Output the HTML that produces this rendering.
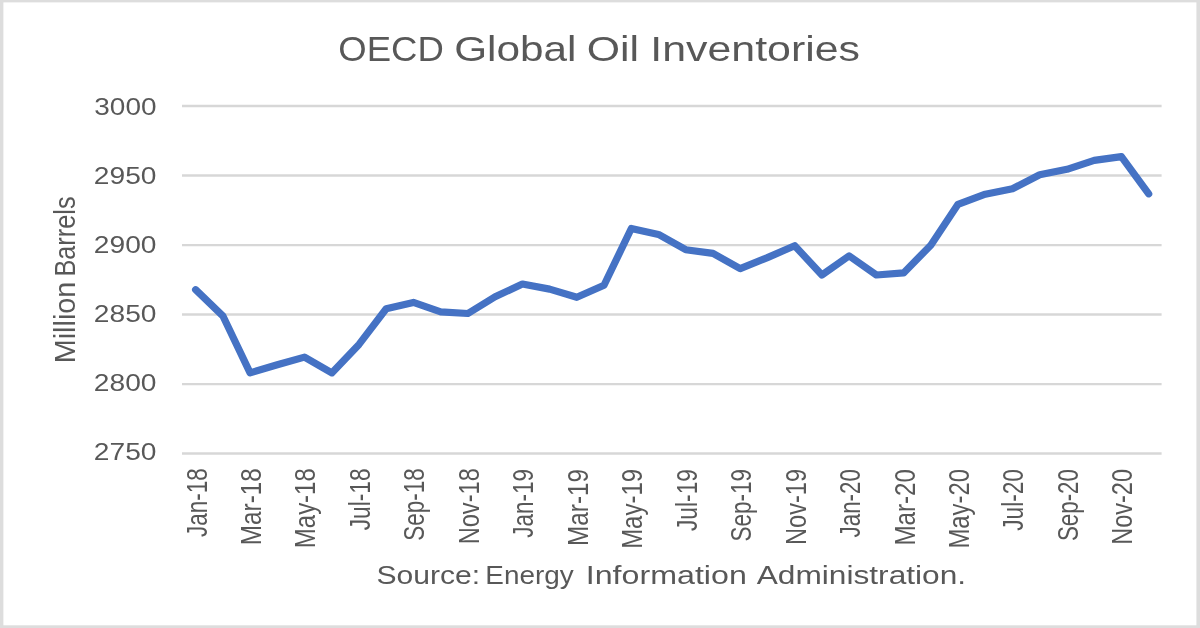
<!DOCTYPE html>
<html lang="en">
<head>
<meta charset="utf-8">
<title>OECD Global Oil Inventories</title>
<style>
html,body{margin:0;padding:0;background:#fff;}
body{width:1200px;height:628px;overflow:hidden;font-family:"Liberation Sans",sans-serif;}
svg{display:block;}
text{font-family:"Liberation Sans",sans-serif;fill:#595959;}
</style>
</head>
<body>
<svg width="1200" height="628" viewBox="0 0 1200 628">
<defs><filter id="soft" x="-2%" y="-2%" width="104%" height="104%"><feGaussianBlur stdDeviation="0.45"/></filter></defs>
<rect x="0" y="0" width="1200" height="628" fill="#dddddd"/>
<g filter="url(#soft)">
<rect x="3.4" y="2.4" width="1193" height="622.9" fill="#ffffff"/>
<g stroke="#d7d7d7" stroke-width="2.4" fill="none">
<line x1="182" y1="106" x2="1161.6" y2="106"/>
<line x1="182" y1="175.5" x2="1161.6" y2="175.5"/>
<line x1="182" y1="245.1" x2="1161.6" y2="245.1"/>
<line x1="182" y1="314.5" x2="1161.6" y2="314.5"/>
<line x1="182" y1="384.1" x2="1161.6" y2="384.1"/>
<line x1="182" y1="453.5" x2="1161.6" y2="453.5"/>
</g>
<polyline points="195.6,289.7 222.8,315.8 250.1,372.9 277.3,364.8 304.5,357.1 331.8,372.9 359.0,344.4 386.2,308.8 413.4,302.4 440.7,311.8 467.9,313.5 495.1,296.8 522.4,284.0 549.6,289.1 576.8,297.3 604.0,285.3 631.3,228.5 658.5,234.4 685.7,249.7 713.0,253.4 740.2,268.7 767.4,257.6 794.7,245.7 821.9,275.0 849.1,255.9 876.4,275.0 903.6,272.9 930.8,245.2 958.0,204.3 985.3,194.2 1012.5,188.7 1039.7,174.7 1067.0,169.3 1094.2,160.4 1121.4,156.6 1148.7,193.8" fill="none" stroke="#4472c4" stroke-width="7.2" stroke-linecap="round" stroke-linejoin="round"/>
<text y="61.0" font-size="35.6"><tspan x="338.29" textLength="105.48" lengthAdjust="spacingAndGlyphs">OECD</tspan> <tspan x="454.22" textLength="122.27" lengthAdjust="spacingAndGlyphs">Global</tspan> <tspan x="586.69" textLength="52.33" lengthAdjust="spacingAndGlyphs">Oil</tspan> <tspan x="650.35" textLength="209.69" lengthAdjust="spacingAndGlyphs">Inventories</tspan></text>
<text x="94.33" y="114.5" font-size="23" textLength="62.17" lengthAdjust="spacingAndGlyphs">3000</text>
<text x="93.88" y="183.6" font-size="23" textLength="62.62" lengthAdjust="spacingAndGlyphs">2950</text>
<text x="93.88" y="252.8" font-size="23" textLength="62.62" lengthAdjust="spacingAndGlyphs">2900</text>
<text x="93.88" y="321.9" font-size="23" textLength="62.62" lengthAdjust="spacingAndGlyphs">2850</text>
<text x="93.88" y="391.0" font-size="23" textLength="62.62" lengthAdjust="spacingAndGlyphs">2800</text>
<text x="93.88" y="460.1" font-size="23" textLength="62.62" lengthAdjust="spacingAndGlyphs">2750</text>
<g transform="translate(75.2,361) rotate(-90)"><text y="0" font-size="30.2"><tspan x="-2.25" textLength="81.56" lengthAdjust="spacingAndGlyphs">Million</tspan> <tspan x="84.42" textLength="80.17" lengthAdjust="spacingAndGlyphs">Barrels</tspan></text></g>
<text transform="translate(206.5,469.2) rotate(-90)" x="-67.85" font-size="28.6" textLength="68.76" lengthAdjust="spacingAndGlyphs">Jan-18</text>
<text transform="translate(261.0,469.2) rotate(-90)" x="-76.00" font-size="28.6" textLength="76.98" lengthAdjust="spacingAndGlyphs">Mar-18</text>
<text transform="translate(315.4,469.2) rotate(-90)" x="-78.97" font-size="28.6" textLength="79.94" lengthAdjust="spacingAndGlyphs">May-18</text>
<text transform="translate(369.9,469.2) rotate(-90)" x="-61.16" font-size="28.6" textLength="62.08" lengthAdjust="spacingAndGlyphs">Jul-18</text>
<text transform="translate(424.3,469.2) rotate(-90)" x="-71.50" font-size="28.6" textLength="72.41" lengthAdjust="spacingAndGlyphs">Sep-18</text>
<text transform="translate(478.8,469.2) rotate(-90)" x="-75.14" font-size="28.6" textLength="76.10" lengthAdjust="spacingAndGlyphs">Nov-18</text>
<text transform="translate(533.3,469.9) rotate(-90)" x="-67.85" font-size="28.6" textLength="68.76" lengthAdjust="spacingAndGlyphs">Jan-19</text>
<text transform="translate(587.7,469.9) rotate(-90)" x="-76.00" font-size="28.6" textLength="76.98" lengthAdjust="spacingAndGlyphs">Mar-19</text>
<text transform="translate(642.2,469.9) rotate(-90)" x="-78.97" font-size="28.6" textLength="79.94" lengthAdjust="spacingAndGlyphs">May-19</text>
<text transform="translate(696.6,469.9) rotate(-90)" x="-61.16" font-size="28.6" textLength="62.08" lengthAdjust="spacingAndGlyphs">Jul-19</text>
<text transform="translate(751.1,469.9) rotate(-90)" x="-71.50" font-size="28.6" textLength="72.41" lengthAdjust="spacingAndGlyphs">Sep-19</text>
<text transform="translate(805.6,469.9) rotate(-90)" x="-75.14" font-size="28.6" textLength="76.10" lengthAdjust="spacingAndGlyphs">Nov-19</text>
<text transform="translate(860.0,469.6) rotate(-90)" x="-67.85" font-size="28.6" textLength="68.41" lengthAdjust="spacingAndGlyphs">Jan-20</text>
<text transform="translate(914.5,469.6) rotate(-90)" x="-75.99" font-size="28.6" textLength="76.59" lengthAdjust="spacingAndGlyphs">Mar-20</text>
<text transform="translate(968.9,469.6) rotate(-90)" x="-78.96" font-size="28.6" textLength="79.56" lengthAdjust="spacingAndGlyphs">May-20</text>
<text transform="translate(1023.4,469.6) rotate(-90)" x="-61.15" font-size="28.6" textLength="61.72" lengthAdjust="spacingAndGlyphs">Jul-20</text>
<text transform="translate(1077.9,469.6) rotate(-90)" x="-71.50" font-size="28.6" textLength="72.05" lengthAdjust="spacingAndGlyphs">Sep-20</text>
<text transform="translate(1132.3,469.6) rotate(-90)" x="-75.14" font-size="28.6" textLength="75.72" lengthAdjust="spacingAndGlyphs">Nov-20</text>
<text y="584.2" font-size="25"><tspan x="376.56" textLength="103.66" lengthAdjust="spacingAndGlyphs">Source:</tspan> <tspan x="485.32" textLength="88.38" lengthAdjust="spacingAndGlyphs">Energy</tspan> <tspan x="585.79" textLength="161.02" lengthAdjust="spacingAndGlyphs">Information</tspan> <tspan x="756.70" textLength="209.46" lengthAdjust="spacingAndGlyphs">Administration.</tspan></text>
</g>
</svg>
</body>
</html>
